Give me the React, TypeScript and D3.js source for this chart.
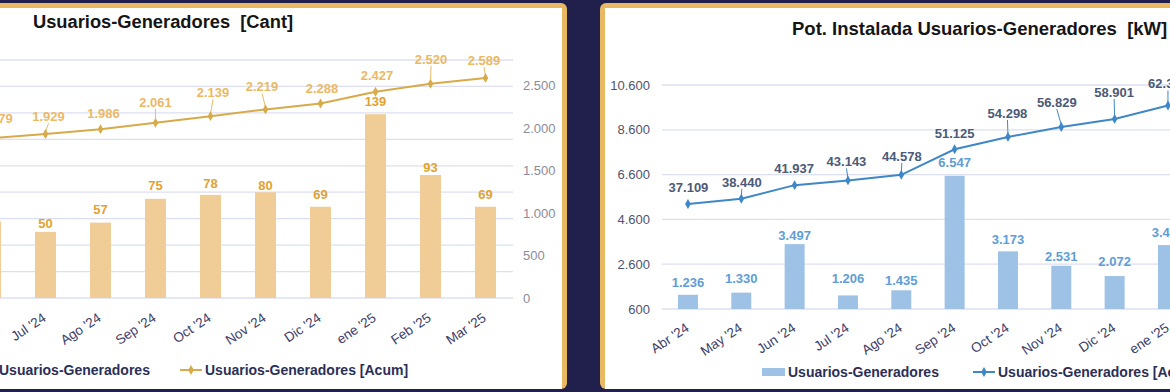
import React from "react";
import * as d3 from "d3";

// meses del período
const meses = ["Abr '24", "May '24", "Jun '24", "Jul '24", "Ago '24", "Sep '24", "Oct '24", "Nov '24", "Dic '24", "ene '25", "Feb '25", "Mar '25"];

// Usuarios-Generadores [Cant]
const cantMes = [49, 55, 58, 50, 57, 75, 78, 80, 69, 139, 93, 69];
const cantAcum = [1766, 1821, 1879, 1929, 1986, 2061, 2139, 2219, 2288, 2427, 2520, 2589];

// Pot. instalada [kW]
const potMes = [1236, 1330, 3497, 1206, 1435, 6547, 3173, 2531, 2072, 3454, 2210, 1890];
const potAcum = [37109, 38440, 41937, 43143, 44578, 51125, 54298, 56829, 58901, 62355, 64565, 66455];

// ticks
const cantGrid = [0, 20, 40, 60, 80, 100, 120, 140, 160, 180];
const cantAcumTicks = [0, 500, 1000, 1500, 2000, 2500];
const potTicks = [600, 2600, 4600, 6600, 8600, 10600];

// label nudges (dx, dy from the point / bar top), leader lines
const cantLineLbl = [[0, -14], [6, -15], [6, -15], [3, -13], [3, -11], [0, -16], [2.5, -19], [-3.5, -18], [1.5, -11], [1.5, -12], [0.5, -20], [-1.5, -13]];
const cantLeader = [false, false, false, true, false, true, true, true, false, false, true, true];
const cantBarGap = [6, 6, 6, 4, 9, 9, 7, 2, 8, 8, 3, 8];
const potLineLbl = [[0.5, -12], [0.5, -12], [-0.5, -12], [-1.5, -14], [0.5, -14], [0, -11], [-0.5, -19], [-4.5, -20], [-0.5, -22], [0, -17], [0, -14], [0, -14]];
const potLeader = [false, true, false, true, true, false, true, true, true, true, false, false];
const potBarGap = [8, 10, 4, 12, 5, 9, 7, 5, 10, 8, 8, 8];

const loc = d3.formatLocale({ decimal: ",", thousands: ".", grouping: [3], currency: ["$", ""] });
const fmt = loc.format(",d");
const FONT = "'Liberation Sans', Arial, sans-serif";

const NAVY = "#211f4b";
const GOLD = "#e8b962";
const GRID = "#dcdff0";

function CantChart() {
  const x = d3.scaleBand().domain(meses).range([-147, 513]);
  const y = d3.scaleLinear().domain([0, 180]).range([298, 60]);
  const y2 = d3.scaleLinear().domain([0, 2800]).range([298, 60]);
  const cx = (m: string) => (x(m) as number) + x.bandwidth() / 2;
  const bw = 21;
  const line = d3.line<number>().x((_, i) => cx(meses[i])).y((d) => y2(d));
  const diamond = d3.symbol(d3.symbolDiamond, 28)();

  return (
    <g fontFamily={FONT}>
      <text x={33} y={28} fontSize={18.3} fontWeight="bold" fill="#151515" style={{ whiteSpace: "pre" }}>
        Usuarios-Generadores  [Cant]
      </text>
      {cantGrid.map((t) => (
        <line key={t} x1={-150} x2={513} y1={y(t)} y2={y(t)} stroke={GRID} strokeWidth={1.3} />
      ))}
      {cantAcumTicks.map((t) => (
        <text key={t} x={523} y={y2(t)} dy="0.36em" fontSize={13} fill="#8b8b99">
          {fmt(t)}
        </text>
      ))}
      {cantMes.map((v, i) => (
        <rect key={i} x={cx(meses[i]) - bw / 2} y={y(v)} width={bw} height={y(0) - y(v)} fill="#f0cd97" />
      ))}
      {cantMes.map((v, i) => (
        <text key={i} x={cx(meses[i])} y={y(v) - cantBarGap[i]} textAnchor="middle" fontSize={13} fontWeight="bold" fill="#e2a233">
          {v}
        </text>
      ))}
      <path d={line(cantAcum) || ""} fill="none" stroke="#d7aa4a" strokeWidth={2} />
      {cantAcum.map((v, i) => {
        const px = cx(meses[i]);
        const py = y2(v);
        const [dx, dy] = cantLineLbl[i];
        return (
          <g key={i}>
            {cantLeader[i] && <line x1={px + dx} y1={py + dy + 2} x2={px} y2={py - 2} stroke="#e6bc6e" strokeWidth={1} />}
            <path d={diamond || ""} transform={`translate(${px},${py})`} fill="#d7aa4a" />
            <text x={px + dx} y={py + dy} textAnchor="middle" fontSize={13} fontWeight="bold" fill="#ebb964">
              {fmt(v)}
            </text>
          </g>
        );
      })}
      {meses.map((m) => (
        <text key={m} transform={`translate(${cx(m) + 1.5},${320}) rotate(-34)`} textAnchor="end" fontSize={13.5} fill="#3d4068">
          {m}
        </text>
      ))}
      <rect x={-26} y={367} width={23} height={8} fill="#f0cd97" />
      <text x={-1} y={375} fontSize={14} fontWeight="bold" fill="#2b2f57">Usuarios-Generadores</text>
      <line x1={180} x2={202} y1={370} y2={370} stroke="#d7aa4a" strokeWidth={2} />
      <path d={diamond || ""} transform="translate(191,370)" fill="#d7aa4a" />
      <text x={205} y={375} fontSize={14} fontWeight="bold" fill="#2b2f57">Usuarios-Generadores [Acum]</text>
    </g>
  );
}

function PotChart() {
  const x = d3.scaleBand().domain(meses).range([661.3, 1301.3]);
  const y = d3.scaleLinear().domain([600, 10600]).range([309, 85]);
  const y2 = d3.scaleLinear().domain([10200, 67600]).range([309, 85]);
  const cx = (m: string) => (x(m) as number) + x.bandwidth() / 2;
  const bw = 20;
  const line = d3.line<number>().x((_, i) => cx(meses[i])).y((d) => y2(d));
  const diamond = d3.symbol(d3.symbolDiamond, 28)();

  return (
    <g fontFamily={FONT}>
      <text x={792} y={35} fontSize={18.5} fontWeight="bold" fill="#151515" style={{ whiteSpace: "pre" }}>
        Pot. Instalada Usuarios-Generadores  [kW]
      </text>
      {potTicks.map((t) => (
        <g key={t}>
          <line x1={662} x2={1310} y1={y(t)} y2={y(t)} stroke={GRID} strokeWidth={1.3} />
          <text x={650} y={y(t)} dy="0.36em" textAnchor="end" fontSize={13} fill="#4f546e">
            {fmt(t)}
          </text>
        </g>
      ))}
      {potMes.map((v, i) => (
        <rect key={i} x={cx(meses[i]) - bw / 2} y={y(v)} width={bw} height={y(600) - y(v)} fill="#9ec2e6" />
      ))}
      {potMes.map((v, i) => (
        <text key={i} x={cx(meses[i])} y={y(v) - potBarGap[i]} textAnchor="middle" fontSize={13} fontWeight="bold" fill="#5f9dd6">
          {fmt(v)}
        </text>
      ))}
      <path d={line(potAcum) || ""} fill="none" stroke="#3f87c6" strokeWidth={2} />
      {potAcum.map((v, i) => {
        const px = cx(meses[i]);
        const py = y2(v);
        const [dx, dy] = potLineLbl[i];
        return (
          <g key={i}>
            {potLeader[i] && <line x1={px + dx} y1={py + dy + 2} x2={px} y2={py - 2} stroke="#3f87c6" strokeWidth={1} />}
            <path d={diamond || ""} transform={`translate(${px},${py})`} fill="#3f87c6" />
            <text x={px + dx} y={py + dy} textAnchor="middle" fontSize={13} fontWeight="bold" fill="#4b5a77">
              {fmt(v)}
            </text>
          </g>
        );
      })}
      {meses.map((m) => (
        <text key={m} transform={`translate(${cx(m) + 2},${330}) rotate(-34)`} textAnchor="end" fontSize={13.5} fill="#3d4068">
          {m}
        </text>
      ))}
      <rect x={762} y={368} width={23} height={8} fill="#9ec2e6" />
      <text x={788} y={377} fontSize={14} fontWeight="bold" fill="#2b2f57">Usuarios-Generadores</text>
      <line x1={973} x2={995} y1={372} y2={372} stroke="#3f87c6" strokeWidth={2} />
      <path d={diamond || ""} transform="translate(984,372)" fill="#3f87c6" />
      <text x={998} y={377} fontSize={14} fontWeight="bold" fill="#2b2f57">Usuarios-Generadores [Acum]</text>
    </g>
  );
}

export default function App() {
  return (
    <svg width={1170} height={392} style={{ position: "absolute", left: 0, top: 0, display: "block" }}>
      <rect width={1170} height={392} fill={NAVY} />
      <rect x={-30} y={3} width={597} height={386} rx={6} fill={GOLD} />
      <rect x={-30} y={8} width={592} height={381} fill="#ffffff" />
      <rect x={600} y={3} width={620} height={386} rx={6} fill={GOLD} />
      <rect x={605} y={8} width={620} height={381} fill="#ffffff" />
      <CantChart />
      <PotChart />
    </svg>
  );
}
